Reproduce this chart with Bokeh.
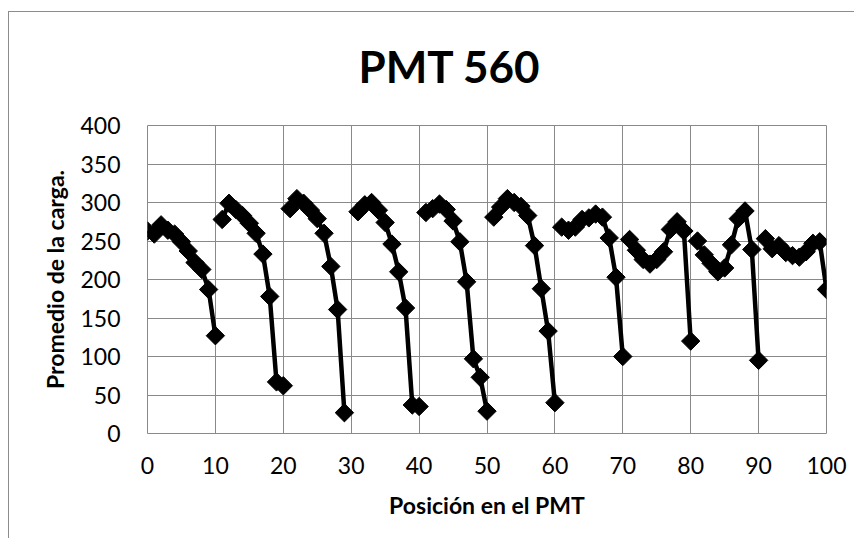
import math
from bokeh.plotting import figure
from bokeh.models import FixedTicker, Range1d
from bokeh.embed import file_html
from bokeh.resources import INLINE

# ---- data ----
posicion = [0, 1, 2, 3, 4, 5, 6, 7, 8, 9, 10,
            11, 12, 13, 14, 15, 16, 17, 18, 19, 20,
            21, 22, 23, 24, 25, 26, 27, 28, 29, 30,
            31, 32, 33, 34, 35, 36, 37, 38, 39, 40,
            41, 42, 43, 44, 45, 46, 47, 48, 49, 50,
            51, 52, 53, 54, 55, 56, 57, 58, 59, 60,
            61, 62, 63, 64, 65, 66, 67, 68, 69, 70,
            71, 72, 73, 74, 75, 76, 77, 78, 79, 80,
            81, 82, 83, 84, 85, 86, 87, 88, 89, 90,
            91, 92, 93, 94, 95, 96, 97, 98, 99, 100]
carga = [263, 259, 271, 264, 259, 249, 237, 222, 213, 187, 127,
         278, 299, 291, 283, 273, 260, 233, 178, 67, 62,
         292, 305, 299, 290, 279, 260, 217, 161, 27, None,
         288, 297, 300, 290, 274, 246, 210, 163, 37, 35,
         287, 292, 298, 291, 276, 249, 197, 97, 73, 29,
         281, 294, 305, 300, 295, 283, 244, 188, 133, 40,
         268, 264, 268, 278, 280, 285, 281, 254, 203, 100,
         252, 238, 226, 220, 226, 236, 265, 275, 263, 120,
         250, 232, 221, 210, 215, 245, 279, 289, 239, 95,
         253, 240, 244, 235, 231, 229, 236, 247, 249, 187]
# positions after which the plotted line is interrupted
fin_de_fila = [10, 20, 29, 40, 50, 60, 70, 80, 90]

ticks_x = [0, 10, 20, 30, 40, 50, 60, 70, 80, 90, 100]
ticks_y = [0, 50, 100, 150, 200, 250, 300, 350, 400]

titulo = "PMT 560"
etiqueta_x = "Posición en el PMT"
etiqueta_y = "Promedio de la carga."

# ---- build line data with gaps ----
xs, ys = [], []
for px, cy in zip(posicion, carga):
    xs.append(px)
    ys.append(float("nan") if cy is None else cy)
    if px in fin_de_fila:
        xs.append(float("nan"))
        ys.append(float("nan"))

GRID = "#898989"
FRAME = "#8c8c8c"
FONT = "Lato"

# outer chart frame (top and left edges) drawn as CSS background lines
frame_css = (f"linear-gradient({FRAME},{FRAME}) 0px 11px / 100% 1px no-repeat, "
             f"linear-gradient({FRAME},{FRAME}) 0px 11px / 1px 100% no-repeat")

p = figure(width=846, height=538,
           x_range=Range1d(0, 100), y_range=Range1d(0, 400),
           output_backend="svg", toolbar_location=None,
           min_border_left=139, min_border_right=28,
           min_border_top=125, min_border_bottom=105,
           background_fill_color="white", border_fill_color=None,
           styles={"margin-left": "8px", "background": frame_css})

p.title.text = titulo
p.title.text_font = FONT
p.title.text_font_style = "bold"
p.title.text_font_size = "44px"
p.title.text_color = "black"
p.title.align = "left"
p.title.offset = 211
p.title.vertical_align = "bottom"
p.title.standoff = 67

p.outline_line_color = GRID
p.outline_line_width = 1

for ax in (p.xaxis[0], p.yaxis[0]):
    ax.axis_line_color = None
    ax.major_tick_line_color = None
    ax.minor_tick_line_color = None
    ax.major_label_text_font = FONT
    ax.major_label_text_font_size = "23px"
    ax.major_label_text_color = "black"
    ax.axis_label_text_font = FONT
    ax.axis_label_text_font_style = "bold"
    ax.axis_label_text_font_size = "23px"
    ax.axis_label_text_color = "black"

p.xaxis.ticker = FixedTicker(ticks=ticks_x)
p.yaxis.ticker = FixedTicker(ticks=ticks_y)
p.xaxis.axis_label = etiqueta_x
p.yaxis.axis_label = etiqueta_y
p.xaxis.major_label_standoff = 17
p.xaxis.axis_label_standoff = 14
p.yaxis.major_label_standoff = 21
p.yaxis.axis_label_standoff = 8

p.xgrid.grid_line_color = GRID
p.ygrid.grid_line_color = GRID
p.xgrid.grid_line_width = 1
p.ygrid.grid_line_width = 1

p.line(xs, ys, line_color="black", line_width=4.5, line_join="round")
p.scatter(xs, ys, marker="square", size=13, angle=math.pi / 4,
          fill_color="black", line_color="black", line_width=1)

open("out.html", "w").write(file_html(p, INLINE))
